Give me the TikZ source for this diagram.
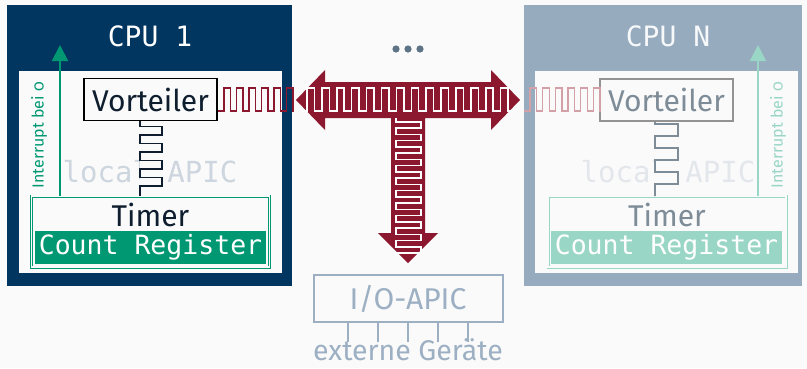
\documentclass[tikz,border=0pt]{standalone}
\usepackage{fontspec}
\setmainfont{Fira Sans}
\setmonofont{DejaVu Sans Mono}
\usetikzlibrary{arrows.meta}

\definecolor{bgcol}{HTML}{FAFAFA}
\definecolor{cpuone}{HTML}{003660}
\definecolor{cpun}{HTML}{97ABBF}
\definecolor{tgreen}{HTML}{009872}
\definecolor{tgreenlight}{HTML}{99D6C6}
\definecolor{tred}{HTML}{8B182E}
\definecolor{tredlight}{HTML}{D4A0A8}
\definecolor{navytext}{HTML}{0F1E2E}
\definecolor{fadetext}{HTML}{7E8C98}
\definecolor{apicone}{HTML}{CDD5DE}
\definecolor{apicn}{HTML}{E3E7EC}
\definecolor{iogray}{HTML}{9DB0C3}
\definecolor{dotgray}{HTML}{5F7387}

\tikzset{
  cpubox/.style={fill=#1, inner sep=0pt, minimum height=281pt},
  innerbox/.style={fill=bgcol, inner sep=0pt, minimum width=263pt, minimum height=202pt},
  cputitle/.style={font=\ttfamily\fontsize{28}{32}\selectfont, inner sep=0pt},
  vtbox/.style={draw=#1, line width=1.5pt, fill=bgcol, inner sep=0pt,
    minimum width=133pt, minimum height=42pt, font=\fontsize{30}{36}\selectfont},
  timerbox/.style={draw=#1, double=bgcol, double distance=1.2pt, line width=0.9pt,
    fill=bgcol, inner sep=0pt, minimum width=238pt, minimum height=71pt},
  timertext/.style={font=\fontsize{30}{36}\selectfont, inner sep=0pt},
  countreg/.style={fill=#1, text=white, inner sep=0pt, minimum width=231pt,
    minimum height=33pt, font=\ttfamily\fontsize{26.5}{30}\selectfont},
  apictext/.style={text=#1, font=\ttfamily\fontsize{29}{32}\selectfont, inner sep=0pt},
  irq/.style={draw=#1, line width=2pt, -{Triangle[width=16pt,length=16pt]}},
  irqlabel/.style={text=#1, rotate=90, font=\fontsize{16}{19}\selectfont, inner sep=0pt},
  wave/.style={draw=#1, line width=1.5pt, line join=miter},
}

\begin{document}
\begin{tikzpicture}[x=1pt,y=-1pt]
\useasboundingbox[fill=bgcol] (0,0) rectangle (807,368);

% CPU 1
\node[cpubox=cpuone, minimum width=285pt] (cpu1) at (149.5,145.5) {};
\node[cputitle, text=white] (title1) at (150,36) {CPU 1};
\node[innerbox] (inner1) at (150.5,172) {};
\node[apictext=apicone] (apic1) at (150,172) {local APIC};
\node[vtbox=black, text=navytext] (vt1) at (150.5,99.5) {Vorteiler};
\node[timerbox=tgreen] (timer1) at (150.5,231.5) {};
\node[timertext, text=navytext] (timertext1) at (150.5,215) {Timer};
\node[countreg=tgreen] (count1) at (150.5,247.5) {Count Register};
\coordinate (irqtop1) at (60,45);
\draw[irq=tgreen] (timer1.north -| irqtop1) -- (irqtop1);
\node[irqlabel=tgreen] (irqlabel1) at (39,135) {Interrupt bei {\addfontfeatures{Numbers=OldStyle}0}};
% Vorteiler -> Timer
\fill[bgcol] (vt1.south -| 140,0) rectangle (timer1.north -| 162,0);
\draw[wave=navytext] (vt1.south -| 140,0) -- ++(0,5)
  \foreach \i in {1,...,4} { -- ++(22,0) -- ++(0,8.5) -- ++(-22,0) -- ++(0,8.5) }
  -- (timer1.north -| 140,0);
% clock into Vorteiler
\coordinate (clk1) at (292,111);
\draw[wave=tred] (vt1.east |- clk1)
  \foreach \i in {1,...,6} { -- ++(6,0) -- ++(0,-23) -- ++(6.5,0) -- ++(0,23) } -- (clk1);

% CPU N
\node[cpubox=cpun, minimum width=278pt] (cpun) at (663,145.5) {};
\node[cputitle, text=white!92!cpun] (titlen) at (668,36) {CPU N};
\node[innerbox] (innern) at (666.5,172) {};
\node[apictext=apicn] (apicn) at (668,172) {local APIC};
\node[vtbox=gray!85, text=fadetext] (vtn) at (666.5,100) {Vorteiler};
\node[timerbox=tgreenlight] (timern) at (667,231.5) {};
\node[timertext, text=fadetext] (timertextn) at (667,215) {Timer};
\node[countreg=tgreenlight] (countn) at (666.5,247.5) {Count Register};
\coordinate (irqtopn) at (758,45);
\draw[irq=tgreenlight] (timern.north -| irqtopn) -- (irqtopn);
\node[irqlabel=tgreenlight] (irqlabeln) at (778,135) {Interrupt bei {\addfontfeatures{Numbers=OldStyle}0}};
\fill[bgcol] (vtn.south -| 655,0) rectangle (timern.north -| 678,0);
\draw[wave=fadetext] (vtn.south -| 655,0) -- ++(0,2)
  \foreach \i in {1,...,3} { -- ++(23,0) -- ++(0,12) -- ++(-23,0) -- ++(0,12) }
  -- (timern.north -| 655,0);
\coordinate (clkn) at (524,111);
\draw[wave=tredlight] (clkn)
  \foreach \i in {1,...,6} { -- ++(6,0) -- ++(0,-23) -- ++(6.67,0) -- ++(0,23) } -- (vtn.west |- clkn);

% ...
\foreach \x in {396,408,420} \fill[dotgray] (\x,49) circle (3.6);

% bus
\coordinate (hub) at (408,100);
\fill[tred] (296,100) -- (325,70) -- (325,82) -- (491,82) -- (491,70) -- (520,100)
  -- (491,130) -- (491,118) -- (425,118) -- (425,233) -- (438,233) -- (408,263)
  -- (378,233) -- (391,233) -- (391,118) -- (325,118) -- (325,130) -- cycle;
\draw[wave=white] (303,111)
  \foreach \i in {1,...,14} { -- ++(4,0) -- ++(0,-23) -- ++(7.4,0) -- ++(0,23) -- ++(3.5,0) } -- (513,111);
\draw[wave=white] (396,118)
  \foreach \i in {1,...,11} { -- ++(0,4) -- ++(25,0) -- ++(0,6) -- ++(-25,0) -- ++(0,2.5) };

% I/O-APIC
\node[draw=iogray, line width=2pt, inner sep=0pt, minimum width=189pt, minimum height=47pt,
  text=iogray, font=\fontsize{30}{36}\selectfont] (ioapic) at (408,298.5) {I/O-APIC};
\foreach \x in {348,378,408,438,468}
  \draw[iogray, line width=2pt] (ioapic.south -| \x,0) -- ++(0,19);
\node[text=iogray, font=\fontsize{28.5}{34}\selectfont, inner sep=0pt] (geraete) at (408,350) {externe Geräte};
\end{tikzpicture}
\end{document}
